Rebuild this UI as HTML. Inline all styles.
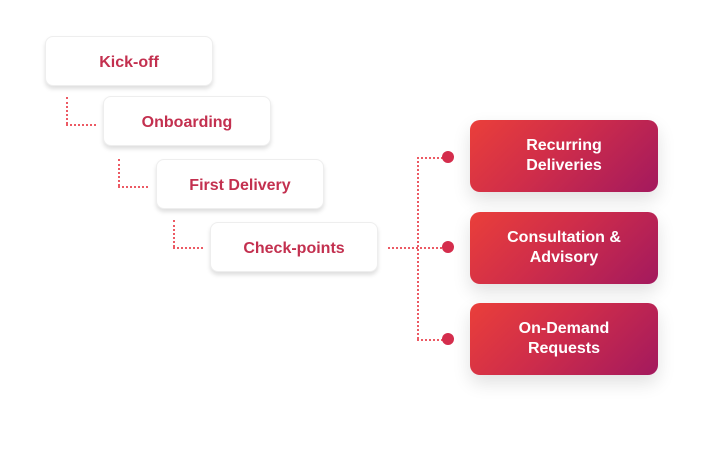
<!DOCTYPE html>
<html><head><style>
body{margin:0;width:702px;height:463px;background:#fff;position:relative;font-family:"Liberation Sans",sans-serif;overflow:hidden}
.w{position:absolute;width:168px;height:50px;background:#fff;border:1px solid #eee;border-radius:8px;box-shadow:0 3px 4px rgba(0,0,0,.13);display:flex;align-items:center;justify-content:center;color:#c3304f;font-weight:bold;font-size:16px;box-sizing:border-box;padding-top:3px}
.r{position:absolute;left:470px;width:188px;height:72px;border-radius:10px;background:linear-gradient(135deg,#ea3f3a 0%,#cf2d4a 45%,#a3195e 100%);box-shadow:0 8px 18px rgba(0,0,0,.12);display:flex;align-items:center;justify-content:center;text-align:center;color:#fff;font-weight:bold;font-size:16px;line-height:20px}
.v{position:absolute;border-left:2px dotted #ec5a64;width:0}
.h{position:absolute;border-top:2px dotted #ec5a64;height:0}
.d{position:absolute;width:12px;height:12px;border-radius:50%;background:#d42d4c}
</style></head><body>
<div class="w" style="left:45px;top:36px">Kick-off</div>
<div class="w" style="left:103px;top:96px">Onboarding</div>
<div class="w" style="left:156px;top:159px">First Delivery</div>
<div class="w" style="left:210px;top:222px">Check-points</div>
<div class="v" style="left:66px;top:97px;height:27px"></div><div class="h" style="left:66px;top:124px;width:30px"></div>
<div class="v" style="left:118px;top:159px;height:27px"></div><div class="h" style="left:118px;top:186px;width:30px"></div>
<div class="v" style="left:173px;top:220px;height:27px"></div><div class="h" style="left:173px;top:247px;width:30px"></div>
<div class="h" style="left:388px;top:247px;width:58px"></div>
<div class="v" style="left:417px;top:157px;height:182px"></div>
<div class="h" style="left:417px;top:157px;width:30px"></div>
<div class="h" style="left:417px;top:339px;width:30px"></div>
<div class="d" style="left:442px;top:151px"></div>
<div class="d" style="left:442px;top:241px"></div>
<div class="d" style="left:442px;top:333px"></div>
<div class="r" style="top:120px">Recurring<br>Deliveries</div>
<div class="r" style="top:212px">Consultation &amp;<br>Advisory</div>
<div class="r" style="top:303px">On-Demand<br>Requests</div>
</body></html>
